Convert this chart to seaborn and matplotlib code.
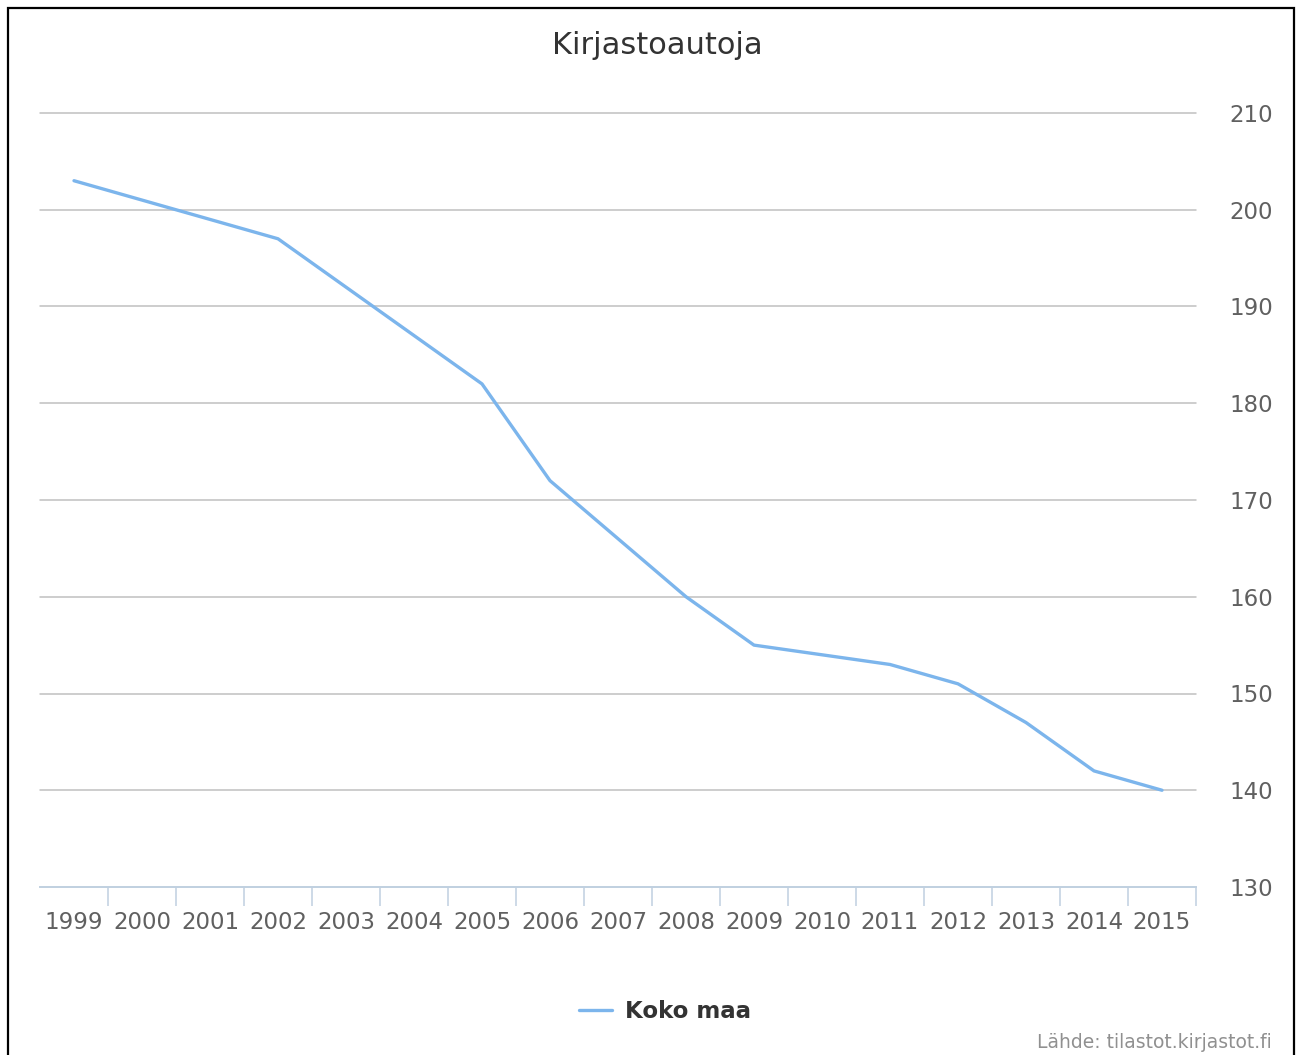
import numpy as np
import pandas as pd
import seaborn as sns
import matplotlib
import matplotlib.pyplot as plt
from matplotlib.patches import Rectangle
matplotlib.use('Agg')

# data
years = ['1999', '2000', '2001', '2002', '2003', '2004', '2005', '2006', '2007',
         '2008', '2009', '2010', '2011', '2012', '2013', '2014', '2015']
koko_maa = [203, 201, 199, 197, 192, 187, 182, 172, 166,
            160, 155, 154, 153, 151, 147, 142, 140]
yticks = [130, 140, 150, 160, 170, 180, 190, 200, 210]

LINE = '#7cb5ec'
GRID = '#c0c0c0'
AXIS = '#c0d0e0'
LABEL = '#606060'


def main():
    sns.set_theme(style='white')
    plt.rcParams['font.family'] = ['DejaVu Sans']

    df = pd.DataFrame({'Vuosi': years, 'Koko maa': koko_maa})

    fig = plt.figure(figsize=(12.96, 10.55), dpi=100)
    ax = fig.add_axes([40 / 1296, 1 - 887 / 1055, 1156 / 1296, 774 / 1055])

    sns.lineplot(data=df, x='Vuosi', y='Koko maa', ax=ax, color=LINE,
                 linewidth=2.4, label='Koko maa', legend=False)

    ax.set_xlim(-0.5, len(years) - 0.5)
    ax.set_ylim(130, 210)
    ax.set_yticks(yticks)
    ax.yaxis.tick_right()
    ax.tick_params(axis='y', length=0, pad=24, labelsize=16.5, labelcolor=LABEL)
    for v in yticks[1:]:
        ax.axhline(v, color=GRID, lw=1.1, zorder=0, clip_on=False)

    ax.set_xticks(range(len(years)))
    ax.set_xticklabels(years)
    ax.set_xticks(np.arange(0.5, len(years)), minor=True)
    ax.tick_params(axis='x', which='major', length=0, pad=17, labelsize=16.5,
                   labelcolor=LABEL)
    ax.tick_params(axis='x', which='minor', bottom=True, length=14,
                   width=1.1, color=AXIS)

    for side in ['top', 'left', 'right']:
        ax.spines[side].set_visible(False)
    ax.spines['bottom'].set_color(AXIS)
    ax.spines['bottom'].set_linewidth(1.4)
    ax.set_xlabel('')
    ax.set_ylabel('')

    fig.text(0.5068, 1 - 45 / 1055, 'Kirjastoautoja', ha='center', va='center',
             fontsize=22, color='#333333')

    handles, labels = ax.get_legend_handles_labels()
    fig.legend(handles, labels, loc='center', bbox_to_anchor=(665 / 1296, 1 - 1012 / 1055),
               frameon=False, prop={'size': 16.5, 'weight': 'bold'},
               handlelength=1.45, handletextpad=0.55, labelcolor='#333333')

    fig.text(1272 / 1296, 1 - 1042 / 1055, 'Lähde: tilastot.kirjastot.fi',
             ha='right', va='center', fontsize=13.5, color='#909090')

    fig.patches.append(Rectangle((8 / 1296, -0.01), 1286 / 1296, 1 - 8 / 1055 + 0.01,
                                 transform=fig.transFigure, fill=False,
                                 edgecolor='black', linewidth=1.6))

    fig.savefig('out.png', dpi=100)


if __name__ == '__main__':
    main()
